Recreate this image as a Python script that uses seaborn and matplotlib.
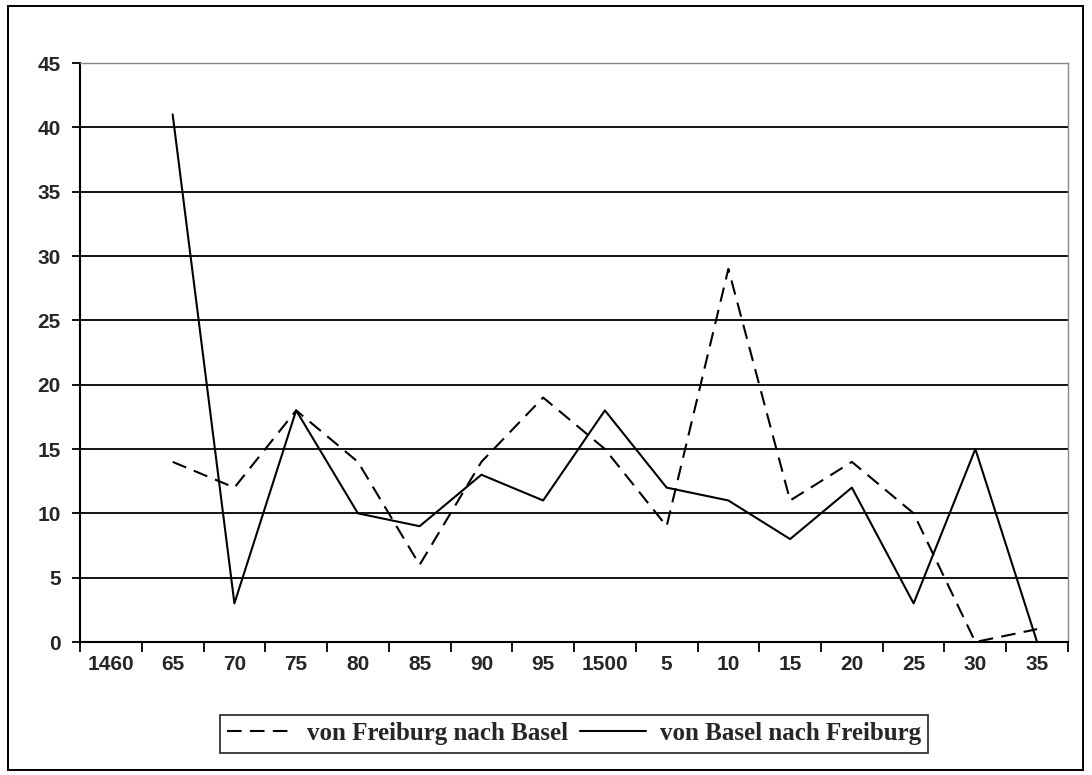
import numpy as np
import pandas as pd
import matplotlib
matplotlib.use("Agg")
import matplotlib.pyplot as plt
import seaborn as sns
from matplotlib.patches import Rectangle

# category labels on the x axis
years = ['1460', '65', '70', '75', '80', '85', '90', '95', '1500',
         '5', '10', '15', '20', '25', '30', '35']

# values (no value for 1460)
freiburg_basel = [np.nan, 14, 12, 18, 14, 6, 14, 19, 15, 9, 29, 11, 14, 10, 0, 1]
basel_freiburg = [np.nan, 41, 3, 18, 10, 9, 13, 11, 18, 12, 11, 8, 12, 3, 15, 0]

df = pd.DataFrame({
    'pos': np.arange(len(years)) + 0.5,
    'fb': freiburg_basel,
    'bf': basel_freiburg,
})

sns.set_style('white')
plt.rcParams['font.family'] = ['Liberation Sans', 'DejaVu Sans']

fig = plt.figure(figsize=(10.92, 7.75), dpi=100)
ax = fig.add_axes([0.0733, 0.1716, 0.9047, 0.7471])

sns.lineplot(data=df, x='pos', y='fb', ax=ax, color='black', lw=1.5,
             linestyle=(0, (7, 4)), label='von Freiburg nach Basel')
sns.lineplot(data=df, x='pos', y='bf', ax=ax, color='black', lw=1.5,
             label='von Basel nach Freiburg')

ax.set_xlim(0, len(years))
ax.set_ylim(0, 45)
ax.set_yticks(range(0, 46, 5))
ax.set_xticks(range(len(years) + 1))
ax.set_xticklabels([])
ax.set_xticks(np.arange(len(years)) + 0.5, minor=True)
ax.set_xticklabels(years, minor=True)
ax.tick_params(axis='x', which='major', direction='out', length=7, width=1.3, color='black', bottom=True)
ax.tick_params(axis='x', which='minor', length=0, pad=9, labelsize=15)
ax.tick_params(axis='y', direction='out', length=6, width=1.3, color='black', left=True, labelsize=15, pad=8)
for lab in ax.get_xticklabels(minor=True) + ax.get_yticklabels():
    lab.set_fontweight('bold')

ax.grid(axis='y', color='black', lw=1.3)
ax.set_axisbelow(True)
ax.set_xlabel('')
ax.set_ylabel('')
for s in ['left', 'bottom']:
    ax.spines[s].set_color('black')
    ax.spines[s].set_linewidth(1.5)
for s in ['top', 'right']:
    ax.spines[s].set_color('#888888')
    ax.spines[s].set_linewidth(1.0)

ax.legend_.remove()
handles, labels = ax.get_legend_handles_labels()
leg = fig.legend(handles, labels, ncol=2, loc='center', bbox_to_anchor=(0.5256, 0.0535),
                 frameon=True, fancybox=False, edgecolor='black', handlelength=2.65,
                 columnspacing=0.45, handletextpad=0.55, borderpad=0.3, borderaxespad=0,
                 prop={'family': 'Liberation Serif', 'weight': 'bold', 'size': 18})
leg.get_frame().set_linewidth(1.3)

# outer frame around the whole chart
fig.patches.append(Rectangle((0.007, 0.006), 0.985, 0.986, transform=fig.transFigure,
                             fill=False, edgecolor='black', lw=1.4))

fig.savefig('out.png', dpi=100)
